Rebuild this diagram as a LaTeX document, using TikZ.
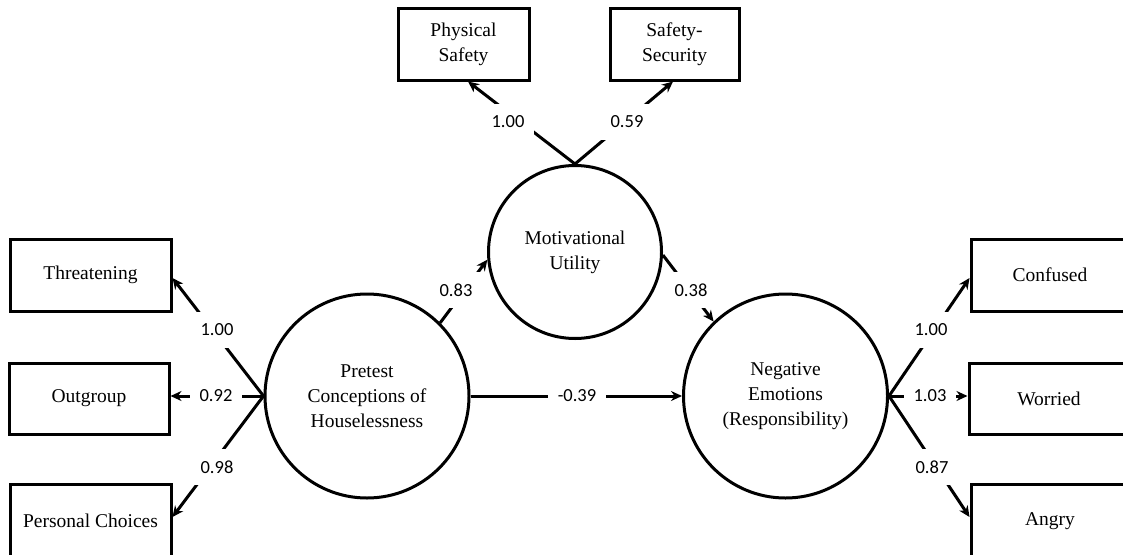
\documentclass[tikz,border=0pt]{standalone}
\usepackage{fontspec}
\setmainfont{Liberation Serif}
\newfontfamily\labfont{Carlito}
\usetikzlibrary{arrows.meta}
\begin{document}
\begin{tikzpicture}[x=1pt,y=-1pt,
 obs/.style={draw,line width=3pt,rectangle,minimum width=160pt,minimum height=71pt,inner sep=0pt,font=\fontsize{19.5}{25}\selectfont,align=center},
 lat/.style={draw,line width=3pt,circle,inner sep=0pt,font=\fontsize{19.5}{25}\selectfont,align=center},
 conn/.style={line width=3pt,-{Stealth[length=11pt,width=10pt]}},
 coef/.style={fill=white,font=\labfont\fontsize{18.5}{20}\selectfont,inner xsep=10pt,inner ysep=12pt}
]
\useasboundingbox (0,0) rectangle (1123,554);
% observed indicators
\node[obs,minimum width=161pt,minimum height=72pt] (thr) at (90.5,275) {Threatening};
\node[obs] (out) at (89,398.5) {Outgroup};
\node[obs,minimum width=161pt,minimum height=74pt] (pc) at (90.5,521) {Personal Choices};
\node[obs,minimum width=158pt,minimum height=72pt] (con) at (1050,275) {Confused};
\node[obs,minimum width=160pt] (wor) at (1049,398.5) {Worried};
\node[obs,minimum width=158pt,minimum height=74pt] (ang) at (1050,521) {Angry};
\node[obs,minimum width=131pt,minimum height=72pt] (ps) at (463.5,44) {Physical\\Safety};
\node[obs,minimum width=129pt,minimum height=72pt] (ss) at (674.5,44) {Safety-\\Security};
% latent variables
\node[lat,minimum size=204pt] (pre) at (367,396) {Pretest\\Conceptions of\\Houselessness};
\node[lat,minimum size=204pt] (neg) at (785.5,396) {Negative\\Emotions\\(Responsibility)};
\node[lat,minimum size=173pt] (mot) at (575,252) {Motivational\\Utility};
% connectors
\draw[conn] (pre.west) -- ([yshift=-3pt]thr.east);
\draw[conn] (pre.west) -- (pre.west -| out.east);
\draw[conn] (pre.west) -- ([yshift=4pt]pc.east);
\draw[conn] (neg.east) -- ([yshift=-3pt]con.west);
\draw[conn] (neg.east) -- (neg.east -| wor.west);
\draw[conn] (neg.east) -- ([yshift=4pt]ang.west);
\draw[conn] (mot.north) -- ([xshift=4.5pt]ps.south);
\draw[conn] (mot.north) -- ([xshift=-1.5pt]ss.south);
\draw[conn] (pre.45) -- (mot.185);
\draw[conn] (mot.-2) -- (neg.134);
\draw[conn] (pre.east) -- (neg.west);
% coefficients
\node[coef] (c1) at (217,330) {1.00};
\node[coef] (c2) at (216,396) {0.92};
\node[coef] (c3) at (217,467) {0.98};
\node[coef] (c4) at (931,330) {1.00};
\node[coef] (c5) at (930,396) {1.03};
\node[coef] (c6) at (932,467) {0.87};
\node[coef] (c7) at (508,122) {1.00};
\node[coef] (c8) at (627,122) {0.59};
\node[coef] (c9) at (456,290) {0.83};
\node[coef] (c10) at (691,290) {0.38};
\node[coef] (c11) at (577,396) {-0.39};
\end{tikzpicture}
\end{document}
